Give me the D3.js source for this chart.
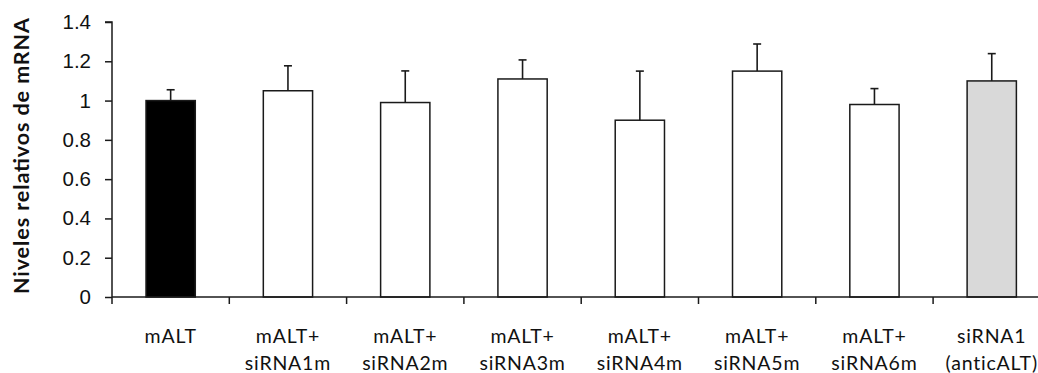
<!DOCTYPE html>
<html>
<head>
<meta charset="utf-8">
<script src="https://cdn.jsdelivr.net/npm/d3@7"></script>
<style>
  html, body { margin: 0; padding: 0; background: #fff; }
  svg { display: block; }
</style>
</head>
<body>
<svg id="chart" width="1038" height="373"></svg>
<script>
// Relative mRNA levels per construct (mean with upper error bar)
const categories = [
  ["mALT"],
  ["mALT+", "siRNA1m"],
  ["mALT+", "siRNA2m"],
  ["mALT+", "siRNA3m"],
  ["mALT+", "siRNA4m"],
  ["mALT+", "siRNA5m"],
  ["mALT+", "siRNA6m"],
  ["siRNA1", "(anticALT)"]
];
const means  = [1.00, 1.05, 0.99, 1.11, 0.90, 1.15, 0.98, 1.10];
const errors = [0.055, 0.127, 0.161, 0.097, 0.25, 0.138, 0.081, 0.139];
const fills  = ["#000000", "#ffffff", "#ffffff", "#ffffff", "#ffffff", "#ffffff", "#ffffff", "#d9d9d9"];
const yTicks = [0, 0.2, 0.4, 0.6, 0.8, 1, 1.2, 1.4];
const yTitle = "Niveles relativos de mRNA";

const svg = d3.select("#chart");
const plotLeft = 112, plotBottom = 297, plotTop = 22;
const band = 117.3;

const x = d3.scaleBand()
  .domain(d3.range(categories.length))
  .range([plotLeft, plotLeft + band * categories.length])
  .paddingInner(0.58)
  .paddingOuter(0.29);

const y = d3.scaleLinear().domain([0, 1.4]).range([plotBottom, plotTop]);

const ink = "#1a1a1a";

// Bars
svg.append("g").selectAll("rect")
  .data(means)
  .join("rect")
  .attr("x", (d, i) => x(i))
  .attr("y", d => y(d))
  .attr("width", x.bandwidth())
  .attr("height", d => y(0) - y(d))
  .attr("fill", (d, i) => fills[i])
  .attr("stroke", ink)
  .attr("stroke-width", 1.5);

// Upper error bars
const eb = svg.append("g").attr("stroke", ink).attr("stroke-width", 1.6);
means.forEach((m, i) => {
  const cx = x(i) + x.bandwidth() / 2;
  eb.append("line").attr("x1", cx).attr("x2", cx)
    .attr("y1", y(m)).attr("y2", y(m + errors[i]));
  eb.append("line").attr("x1", cx - 4).attr("x2", cx + 4)
    .attr("y1", y(m + errors[i])).attr("y2", y(m + errors[i]));
});

// Y axis
const yAxis = d3.axisLeft(y).tickValues(yTicks).tickSize(7).tickPadding(14)
  .tickFormat(d => d3.format("")(d));
const gy = svg.append("g").attr("transform", `translate(${plotLeft},0)`).call(yAxis);
gy.select(".domain").attr("stroke", ink).attr("stroke-width", 1.5).attr("d", `M-7,${plotTop}H0V${plotBottom}`);
gy.selectAll(".tick line").attr("stroke", ink).attr("stroke-width", 1.5);
gy.selectAll(".tick text")
  .attr("fill", "#111")
  .style("font-family", "'Liberation Sans', Arial, sans-serif")
  .style("font-size", "20.5px");

// X axis: boundary ticks between categories, below the baseline
const bounds = d3.range(categories.length + 1).map(i => plotLeft + i * band);
svg.append("line")
  .attr("x1", plotLeft).attr("x2", plotLeft + band * categories.length)
  .attr("y1", plotBottom).attr("y2", plotBottom)
  .attr("stroke", ink).attr("stroke-width", 1.5);
svg.append("g").selectAll("line")
  .data(bounds)
  .join("line")
  .attr("x1", d => d).attr("x2", d => d)
  .attr("y1", plotBottom).attr("y2", plotBottom + 7)
  .attr("stroke", ink).attr("stroke-width", 1.5);

// Category labels
const lbl = svg.append("g")
  .style("font-family", "Lato, 'Open Sans', sans-serif")
  .style("font-size", "19.5px")
  .style("letter-spacing", "0.8px")
  .attr("fill", "#111")
  .attr("text-anchor", "middle");
categories.forEach((lines, i) => {
  const t = lbl.append("text")
    .attr("x", x(i) + x.bandwidth() / 2)
    .attr("y", 343);
  lines.forEach((s, k) => {
    t.append("tspan").attr("x", x(i) + x.bandwidth() / 2)
      .attr("dy", k === 0 ? 0 : 27).text(s);
  });
});

// Y title
svg.append("text")
  .attr("transform", `translate(29,156) rotate(-90)`)
  .attr("text-anchor", "middle")
  .attr("textLength", 276)
  .attr("lengthAdjust", "spacing")
  .style("font-family", "Lato, 'Open Sans', sans-serif")
  .style("font-weight", "bold")
  .style("font-size", "21.5px")
  .attr("fill", "#111")
  .text(yTitle);
</script>
</body>
</html>
